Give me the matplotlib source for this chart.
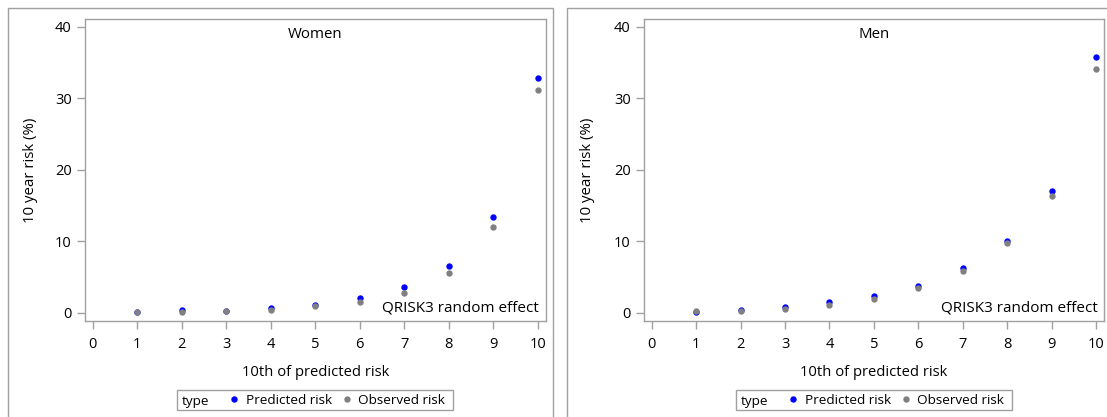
import matplotlib
matplotlib.use("Agg")
import matplotlib.pyplot as plt
from matplotlib.patches import Rectangle
from matplotlib.lines import Line2D

plt.rcParams['font.family'] = ['Open Sans', 'DejaVu Sans']

deciles = [1, 2, 3, 4, 5, 6, 7, 8, 9, 10]
x_ticks = [0, 1, 2, 3, 4, 5, 6, 7, 8, 9, 10]
y_ticks = [0, 10, 20, 30, 40]

women_predicted = [0.10, 0.33, 0.30, 0.70, 1.15, 2.05, 3.6, 6.6, 13.35, 32.8]
women_observed = [0.10, 0.12, 0.28, 0.42, 0.89, 1.55, 2.8, 5.5, 12.0, 31.2]
men_predicted = [0.10, 0.45, 0.80, 1.50, 2.40, 3.80, 6.2, 10.0, 17.0, 35.8]
men_observed = [0.20, 0.20, 0.55, 1.10, 1.90, 3.40, 5.8, 9.8, 16.4, 34.1]

panel_titles = ["Women", "Men"]
inset_label = "QRISK3 random effect"
x_label = "10th of predicted risk"
y_label = "10 year risk (%)"
legend_title = "type"
series_labels = ["Predicted risk", "Observed risk"]

W, H = 1107, 417
fig = plt.figure(figsize=(W / 100, H / 100), dpi=100)

pred_color = "#0000FF"
obs_color = "#808080"
frame_color = "#A0A0A0"

def fx(px):
    return px / W

def fy(py):
    return 1 - py / H

# outer panel borders
for (x0, x1) in [(8, 553), (567, 1112)]:
    fig.add_artist(Rectangle((fx(x0), fy(430)), fx(x1 - x0), (430 - 8) / H,
                             transform=fig.transFigure, fill=False,
                             edgecolor=frame_color, linewidth=1.0))

axes_px = [(84.8, 545.7), (643.8, 1104.0)]
ax_top, ax_bot = 19, 321
data = [(women_predicted, women_observed), (men_predicted, men_observed)]
ylab_px = [30, 587]

for i, ((l, r), (pred, obs)) in enumerate(zip(axes_px, data)):
    ax = fig.add_axes([fx(l), fy(ax_bot), fx(r - l), (ax_bot - ax_top) / H])
    ax.scatter(deciles, pred, s=21, color=pred_color, zorder=3, linewidths=0)
    ax.scatter(deciles, obs, s=21, color=obs_color, zorder=4, linewidths=0)
    ax.set_xlim(-0.18, 10.18)
    ax.set_ylim(-1.16, 41.12)
    ax.set_xticks(x_ticks)
    ax.set_yticks(y_ticks)
    for s in ax.spines.values():
        s.set_color(frame_color)
        s.set_linewidth(1.0)
    ax.tick_params(axis='both', colors=frame_color, length=5.5, width=1.0,
                   labelcolor='black', labelsize=10.5)
    ax.tick_params(axis='y', pad=4)
    ax.tick_params(axis='x', pad=6)
    ax.set_xlabel(x_label, fontsize=10.6, va='center')
    ax.set_ylabel(y_label, fontsize=10.8, va='center')
    ax.xaxis.set_label_coords(0.5, -(373 - ax_bot) / (ax_bot - ax_top))
    ax.yaxis.set_label_coords((ylab_px[i] - l) / (r - l), 0.5)
    ax.text(0.5, 1 - (34.5 - ax_top) / (ax_bot - ax_top), panel_titles[i],
            transform=ax.transAxes, ha='center', va='center', fontsize=10.8)
    ax.text(1 - 6.5 / (r - l), 1 - (308.5 - ax_top) / (ax_bot - ax_top), inset_label,
            transform=ax.transAxes, ha='right', va='center', fontsize=11)

    # legend (manual, below axes)
    LFS = 9.7
    bl = l + 92.5
    br = l + 368
    fig.add_artist(Rectangle((fx(bl), fy(409.5)), fx(br - bl), (409.5 - 390) / H,
                             transform=fig.transFigure, fill=False,
                             edgecolor=frame_color, linewidth=1.0))
    ty = fy(401)
    fig.text(fx(bl + 4.5), ty, legend_title, ha='left', va='center', fontsize=LFS)
    fig.add_artist(Line2D([fx(bl + 57)], [fy(399.3)], marker='o', markersize=4.6,
                          markeredgewidth=0, color=pred_color, linestyle='none',
                          transform=fig.transFigure))
    fig.text(fx(bl + 68.5), ty, series_labels[0], ha='left', va='center', fontsize=LFS)
    fig.add_artist(Line2D([fx(bl + 170)], [fy(399.3)], marker='o', markersize=4.6,
                          markeredgewidth=0, color=obs_color, linestyle='none',
                          transform=fig.transFigure))
    fig.text(fx(bl + 181), ty, series_labels[1], ha='left', va='center', fontsize=LFS)

fig.savefig("out.png", dpi=100)
